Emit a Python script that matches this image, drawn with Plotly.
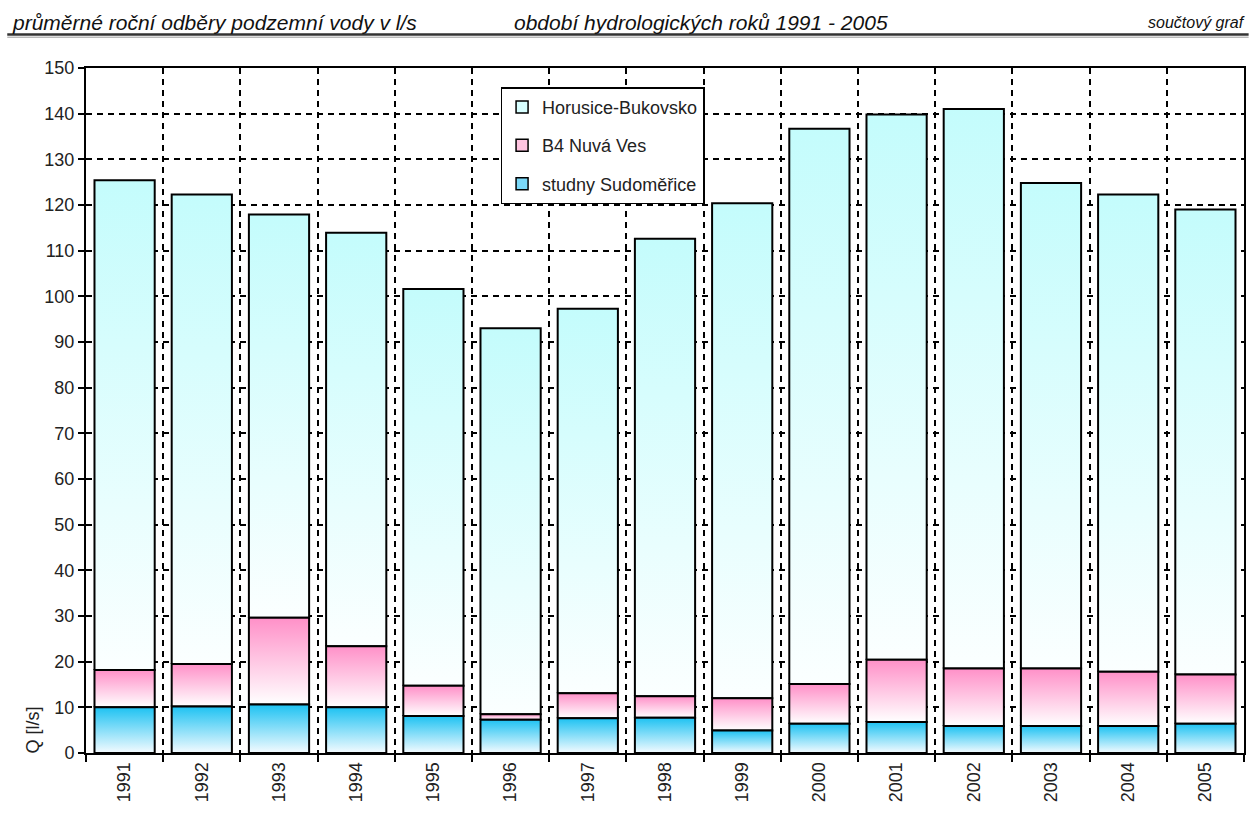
import plotly.graph_objects as go

# hydrological years
years = list(range(1991, 2006))

# mean yearly abstraction, l/s
studny_sudomerice = [10.0, 10.2, 10.6, 10.0, 8.1, 7.3, 7.6, 7.7, 4.9, 6.4, 6.8, 5.9, 5.9, 5.9, 6.4]
b4_nova_ves = [8.2, 9.3, 19.0, 13.4, 6.6, 1.2, 5.5, 4.7, 7.1, 8.7, 13.6, 12.6, 12.6, 11.9, 10.8]
horusice_bukovsko = [107.2, 102.8, 88.3, 90.5, 86.9, 84.5, 84.2, 100.2, 108.4, 121.6, 119.4, 122.5, 106.3, 104.5, 101.8]

# name, values, gradient bottom colour, gradient top colour, legend swatch
series = [
    ("Horusice-Bukovsko", horusice_bukovsko, "#fbffff", "#c4fcfc", "#d8ffff"),
    ("B4 Nuvá Ves", b4_nova_ves, "#ffffff", "#ff90c8", "#ffc4e0"),
    ("studny Sudoměřice", studny_sudomerice, "#f4fbff", "#1ec2f2", "#7ad8f8"),
]

FONT = "Liberation Sans, Arial, sans-serif"
half_w = 0.39  # half of bar width in category units

# stacking bases
bases = {}
run = [0.0] * len(years)
for name, vals, c0, c1, sw in reversed(series):
    bases[name] = list(run)
    run = [r + v for r, v in zip(run, vals)]

fig = go.Figure()

# legend entries (square swatches like the original)
for name, vals, c0, c1, sw in series:
    fig.add_trace(go.Bar(
        x=[None], y=[None], name=name, legendgroup=name,
        marker=dict(color=sw, line=dict(color="black", width=1.5)),
    ))

# stacked bar segments with vertical gradient fill
for name, vals, c0, c1, sw in series:
    for i, yr in enumerate(years):
        y0 = bases[name][i]
        y1 = y0 + vals[i]
        fig.add_trace(go.Scatter(
            x=[yr - half_w, yr + half_w, yr + half_w, yr - half_w, yr - half_w],
            y=[y0, y0, y1, y1, y0],
            mode="lines",
            fill="toself",
            fillgradient=dict(type="vertical", colorscale=[[0, c0], [1, c1]]),
            line=dict(color="black", width=2),
            name=name,
            legendgroup=name,
            showlegend=False,
            hoverinfo="skip",
        ))

bounds = [y - 0.5 for y in years] + [years[-1] + 0.5]

fig.update_xaxes(
    range=[years[0] - 0.5, years[-1] + 0.5],
    tickmode="array",
    tickvals=years,
    ticktext=[str(y) for y in years],
    tickangle=-90,
    ticks="",
    showgrid=False,
    zeroline=False,
    showline=True,
    linecolor="black",
    linewidth=2,
    mirror=True,
    tickfont=dict(family=FONT, size=18, color="#222"),
    minor=dict(
        tickmode="array",
        tickvals=bounds,
        ticks="outside",
        ticklen=7,
        tickwidth=2,
        tickcolor="black",
        showgrid=True,
        gridcolor="black",
        gridwidth=2,
        griddash="6px,5px",
    ),
)

fig.update_yaxes(
    range=[0, 150],
    dtick=10,
    ticks="outside",
    ticklen=6,
    tickwidth=2,
    tickcolor="black",
    showgrid=True,
    gridcolor="black",
    gridwidth=2,
    griddash="6px,5px",
    zeroline=False,
    showline=True,
    linecolor="black",
    linewidth=2,
    mirror=True,
    tickfont=dict(family=FONT, size=18, color="#222"),
)

# header texts
for txt, x, anchor, size in [
    ("průměrné roční odběry podzemní vody v l/s", -0.066, "left", 21),
    ("období hydrologických roků 1991 - 2005", 0.368, "left", 21),
    ("součtový graf", 1.0025, "right", 16),
]:
    fig.add_annotation(
        text="<i>" + txt + "</i>", x=x, y=1.067, xref="paper", yref="paper",
        xanchor=anchor, yanchor="middle", showarrow=False,
        font=dict(family=FONT, size=size, color="#111"),
    )

# double rule under header
fig.add_shape(type="line", xref="paper", yref="paper", x0=-0.068, x1=1.004,
              y0=1.049, y1=1.049, line=dict(color="#333", width=2.5))
fig.add_shape(type="line", xref="paper", yref="paper", x0=-0.068, x1=1.004,
              y0=1.045, y1=1.045, line=dict(color="#999", width=1))

# y axis title near the bottom
fig.add_annotation(
    text="Q [l/s]", x=-0.046, y=0.034, xref="paper", yref="paper",
    textangle=-90, showarrow=False, xanchor="center", yanchor="middle",
    font=dict(family=FONT, size=18, color="#222"),
)

fig.update_layout(
    width=1251,
    height=822,
    margin=dict(l=86, r=5, t=68, b=69),
    plot_bgcolor="white",
    paper_bgcolor="white",
    font=dict(family=FONT, color="#222"),
    showlegend=True,
    legend=dict(
        x=0.358, y=0.972, xanchor="left", yanchor="top",
        bgcolor="white", bordercolor="black", borderwidth=1.5,
        font=dict(family=FONT, size=18, color="#222"),
        traceorder="grouped", tracegroupgap=12, itemwidth=30,
    ),
)

fig.write_html("out.html", config={"displayModeBar": False},
               post_script="document.body.style.margin='0px';")
